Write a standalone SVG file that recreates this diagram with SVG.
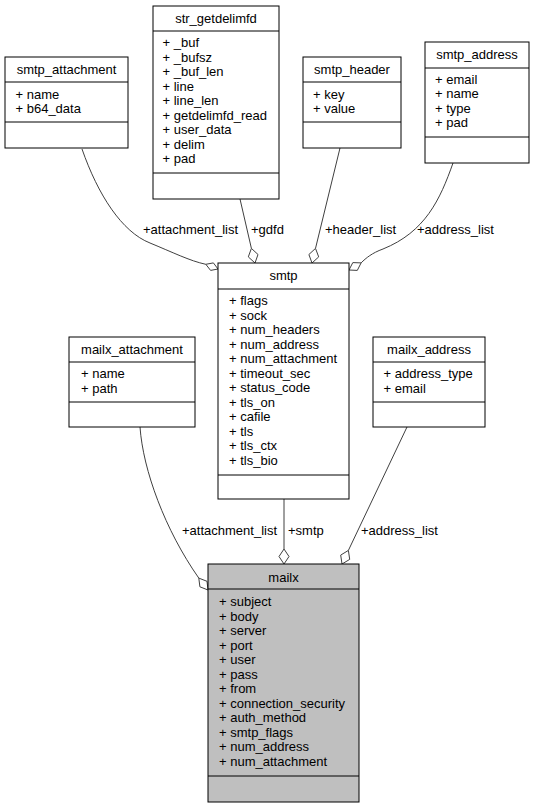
<svg xmlns="http://www.w3.org/2000/svg" width="535" height="808" viewBox="0 0 535 808">
<style>
text{font-family:"Liberation Sans",Arial,sans-serif;font-size:13px;fill:#000}
.t{text-anchor:middle}
.box{fill:#fff;stroke:#000;stroke-width:1}
.main{fill:#bfbfbf;stroke:#000;stroke-width:1}
.sep{stroke:#000;stroke-width:1}
.edge{fill:none;stroke:#404040;stroke-width:1}
.dia{fill:#fff;stroke:#404040;stroke-width:1}
</style>
<rect width="535" height="808" fill="#fff"/>
<g id="connectors">
<path class="edge" d="M82,149 C98,195 122,232 150,243 C172,252 190,261 205.8,264.3"/>
<polygon class="dia" points="218,269 210.6,270.4 205.8,264.3 213.4,262.9"/>
<text x="143" y="234">+attachment_list</text>
<path class="edge" d="M240,199 L251.4,248.4"/>
<polygon class="dia" points="255,263 248.3,256.9 251.4,248.4 258,254.5"/>
<text x="251" y="234">+gdfd</text>
<path class="edge" d="M340,148 L315.5,248.4"/>
<polygon class="dia" points="312,263 308.9,254.5 315.5,248.4 318.7,256.9"/>
<text x="325" y="234">+header_list</text>
<path class="edge" d="M453,163 C440,200 425,232 383,249 C372,253 366,258 361.1,262.9"/>
<polygon class="dia" points="349,270 352.8,262.6 361.1,262.9 357.3,270.4"/>
<text x="417" y="234">+address_list</text>
<path class="edge" d="M140,427 C143,470 165,530 198.8,578.1"/>
<polygon class="dia" points="208,590 199.9,586.8 198.8,578.1 207,581.3"/>
<text x="182" y="535">+attachment_list</text>
<path class="edge" d="M284,499 L284,549"/>
<polygon class="dia" points="284,564 279,556.5 284,549 289,556.5"/>
<text x="288" y="535">+smtp</text>
<path class="edge" d="M407,427 L348.4,550.4"/>
<polygon class="dia" points="342,564 340.7,555.1 348.4,550.4 349.7,559.4"/>
<text x="361" y="535">+address_list</text>
</g>
<g id="smtp_attachment">
<rect class="box" x="5" y="57" width="123" height="91"/>
<line class="sep" x1="5" y1="82" x2="128" y2="82"/>
<line class="sep" x1="5" y1="122" x2="128" y2="122"/>
<text class="t" x="66.5" y="74">smtp_attachment</text>
<text x="15.5" y="98.5">+ name</text>
<text x="15.5" y="113">+ b64_data</text>
</g>
<g id="str_getdelimfd">
<rect class="box" x="153" y="6" width="126" height="193"/>
<line class="sep" x1="153" y1="31" x2="279" y2="31"/>
<line class="sep" x1="153" y1="173" x2="279" y2="173"/>
<text class="t" x="216" y="22.5">str_getdelimfd</text>
<text x="162.5" y="47.3">+ _buf</text>
<text x="162.5" y="61.8">+ _bufsz</text>
<text x="162.5" y="76.3">+ _buf_len</text>
<text x="162.5" y="90.8">+ line</text>
<text x="162.5" y="105.3">+ line_len</text>
<text x="162.5" y="119.8">+ getdelimfd_read</text>
<text x="162.5" y="134.3">+ user_data</text>
<text x="162.5" y="148.8">+ delim</text>
<text x="162.5" y="163.3">+ pad</text>
</g>
<g id="smtp_header">
<rect class="box" x="303" y="57" width="98" height="91"/>
<line class="sep" x1="303" y1="82" x2="401" y2="82"/>
<line class="sep" x1="303" y1="122" x2="401" y2="122"/>
<text class="t" x="352" y="74">smtp_header</text>
<text x="313" y="98.5">+ key</text>
<text x="313" y="113">+ value</text>
</g>
<g id="smtp_address">
<rect class="box" x="425" y="42" width="104" height="121"/>
<line class="sep" x1="425" y1="68" x2="529" y2="68"/>
<line class="sep" x1="425" y1="137" x2="529" y2="137"/>
<text class="t" x="477" y="59">smtp_address</text>
<text x="435" y="83.8">+ email</text>
<text x="435" y="98.3">+ name</text>
<text x="435" y="112.8">+ type</text>
<text x="435" y="127.3">+ pad</text>
</g>
<g id="smtp">
<rect class="box" x="218" y="263" width="131" height="236"/>
<line class="sep" x1="218" y1="289" x2="349" y2="289"/>
<line class="sep" x1="218" y1="475" x2="349" y2="475"/>
<text class="t" x="283.5" y="280">smtp</text>
<text x="229" y="305">+ flags</text>
<text x="229" y="319.5">+ sock</text>
<text x="229" y="334">+ num_headers</text>
<text x="229" y="348.5">+ num_address</text>
<text x="229" y="363">+ num_attachment</text>
<text x="229" y="377.5">+ timeout_sec</text>
<text x="229" y="392">+ status_code</text>
<text x="229" y="406.5">+ tls_on</text>
<text x="229" y="421">+ cafile</text>
<text x="229" y="435.5">+ tls</text>
<text x="229" y="450">+ tls_ctx</text>
<text x="229" y="464.5">+ tls_bio</text>
</g>
<g id="mailx_attachment">
<rect class="box" x="69" y="337" width="126" height="90"/>
<line class="sep" x1="69" y1="362" x2="195" y2="362"/>
<line class="sep" x1="69" y1="402" x2="195" y2="402"/>
<text class="t" x="132" y="354">mailx_attachment</text>
<text x="81" y="377.8">+ name</text>
<text x="81" y="392.5">+ path</text>
</g>
<g id="mailx_address">
<rect class="box" x="373" y="337" width="112" height="90"/>
<line class="sep" x1="373" y1="362" x2="485" y2="362"/>
<line class="sep" x1="373" y1="402" x2="485" y2="402"/>
<text class="t" x="429" y="354">mailx_address</text>
<text x="383.5" y="377.8">+ address_type</text>
<text x="383.5" y="392.5">+ email</text>
</g>
<g id="mailx">
<rect class="main" x="208" y="564" width="151" height="238"/>
<line class="sep" x1="208" y1="589" x2="359" y2="589"/>
<line class="sep" x1="208" y1="776" x2="359" y2="776"/>
<text class="t" x="283.5" y="581.5">mailx</text>
<text x="219" y="606">+ subject</text>
<text x="219" y="620.5">+ body</text>
<text x="219" y="635">+ server</text>
<text x="219" y="649.5">+ port</text>
<text x="219" y="664">+ user</text>
<text x="219" y="678.5">+ pass</text>
<text x="219" y="693">+ from</text>
<text x="219" y="707.5">+ connection_security</text>
<text x="219" y="722">+ auth_method</text>
<text x="219" y="736.5">+ smtp_flags</text>
<text x="219" y="751">+ num_address</text>
<text x="219" y="765.5">+ num_attachment</text>
</g>
</svg>
